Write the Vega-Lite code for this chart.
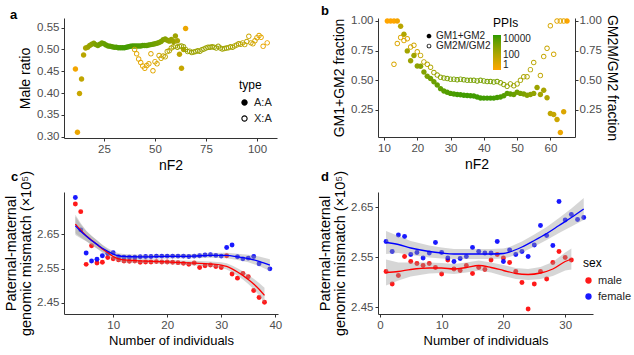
{
  "$schema": "https://vega.github.io/schema/vega-lite/v6.json",
  "padding": {"left": 3, "top": 5, "right": 0, "bottom": 0},
  "background": "white",
  "config": {
    "font": "Liberation Sans",
    "view": {"stroke": null},
    "axis": {"labelFont": "Liberation Sans", "titleFont": "Liberation Sans", "labelFontSize": 11.5, "labelColor": "#4D4D4D", "titleFontSize": 14, "titleFontWeight": "normal", "titleColor": "black", "domainColor": "#333333", "tickColor": "#333333", "tickSize": 3, "grid": false, "labelPadding": 2, "titlePadding": 4},
    "legend": {"labelFont": "Liberation Sans", "titleFont": "Liberation Sans", "titleFontWeight": "normal", "titleColor": "black", "labelColor": "#222222", "symbolBaseFillColor": "black", "symbolBaseStrokeColor": "black", "symbolStrokeWidth": 0},
    "title": {"font": "Liberation Sans", "fontSize": 13, "fontWeight": "bold", "anchor": "start", "frame": "group", "offset": -4, "color": "black"}
  },
  "datasets": {
    "aData": [
      {"n": 11, "r": 0.455, "type": "A:A", "ppi": 2},
      {"n": 12, "r": 0.31, "type": "A:A", "ppi": 3},
      {"n": 13, "r": 0.399, "type": "A:A", "ppi": 25},
      {"n": 14, "r": 0.432, "type": "A:A", "ppi": 40},
      {"n": 15, "r": 0.487, "type": "A:A", "ppi": 60},
      {"n": 16, "r": 0.503, "type": "A:A", "ppi": 150},
      {"n": 17, "r": 0.505, "type": "A:A", "ppi": 250},
      {"n": 18, "r": 0.509, "type": "A:A", "ppi": 400},
      {"n": 19, "r": 0.512, "type": "A:A", "ppi": 600},
      {"n": 20, "r": 0.514, "type": "A:A", "ppi": 900},
      {"n": 21, "r": 0.511, "type": "A:A", "ppi": 1500},
      {"n": 22, "r": 0.509, "type": "A:A", "ppi": 2000},
      {"n": 23, "r": 0.512, "type": "A:A", "ppi": 2500},
      {"n": 24, "r": 0.515, "type": "A:A", "ppi": 3000},
      {"n": 25, "r": 0.513, "type": "A:A", "ppi": 4000},
      {"n": 26, "r": 0.51, "type": "A:A", "ppi": 5000},
      {"n": 27, "r": 0.508, "type": "A:A", "ppi": 6000},
      {"n": 28, "r": 0.507, "type": "A:A", "ppi": 7000},
      {"n": 29, "r": 0.506, "type": "A:A", "ppi": 8000},
      {"n": 30, "r": 0.505, "type": "A:A", "ppi": 9000},
      {"n": 31, "r": 0.505, "type": "A:A", "ppi": 10000},
      {"n": 32, "r": 0.504, "type": "A:A", "ppi": 12000},
      {"n": 33, "r": 0.504, "type": "A:A", "ppi": 14000},
      {"n": 34, "r": 0.504, "type": "A:A", "ppi": 16000},
      {"n": 35, "r": 0.504, "type": "A:A", "ppi": 18000},
      {"n": 36, "r": 0.505, "type": "A:A", "ppi": 18000},
      {"n": 37, "r": 0.506, "type": "A:A", "ppi": 16000},
      {"n": 38, "r": 0.507, "type": "A:A", "ppi": 15000},
      {"n": 39, "r": 0.508, "type": "A:A", "ppi": 14000},
      {"n": 40, "r": 0.508, "type": "A:A", "ppi": 13000},
      {"n": 41, "r": 0.508, "type": "A:A", "ppi": 12000},
      {"n": 42, "r": 0.508, "type": "A:A", "ppi": 11000},
      {"n": 43, "r": 0.508, "type": "A:A", "ppi": 10000},
      {"n": 44, "r": 0.509, "type": "A:A", "ppi": 9000},
      {"n": 45, "r": 0.509, "type": "A:A", "ppi": 8000},
      {"n": 46, "r": 0.509, "type": "A:A", "ppi": 7000},
      {"n": 47, "r": 0.51, "type": "A:A", "ppi": 6000},
      {"n": 48, "r": 0.511, "type": "A:A", "ppi": 5000},
      {"n": 49, "r": 0.512, "type": "A:A", "ppi": 4000},
      {"n": 50, "r": 0.513, "type": "A:A", "ppi": 3000},
      {"n": 51, "r": 0.514, "type": "A:A", "ppi": 2500},
      {"n": 52, "r": 0.516, "type": "A:A", "ppi": 2000},
      {"n": 53, "r": 0.518, "type": "A:A", "ppi": 1500},
      {"n": 54, "r": 0.522, "type": "A:A", "ppi": 1200},
      {"n": 55, "r": 0.524, "type": "A:A", "ppi": 900},
      {"n": 56, "r": 0.521, "type": "A:A", "ppi": 700},
      {"n": 57, "r": 0.519, "type": "A:A", "ppi": 500},
      {"n": 58, "r": 0.523, "type": "A:A", "ppi": 400},
      {"n": 59, "r": 0.518, "type": "A:A", "ppi": 300},
      {"n": 60, "r": 0.531, "type": "A:A", "ppi": 250},
      {"n": 61, "r": 0.52, "type": "A:A", "ppi": 150},
      {"n": 62, "r": 0.489, "type": "A:A", "ppi": 50},
      {"n": 63, "r": 0.457, "type": "A:A", "ppi": 30},
      {"n": 64, "r": 0.5, "type": "A:A", "ppi": 80},
      {"n": 65, "r": 0.548, "type": "A:A", "ppi": 3},
      {"n": 40, "r": 0.5, "type": "X:A", "ppi": 8},
      {"n": 41, "r": 0.49, "type": "X:A", "ppi": 6},
      {"n": 42, "r": 0.478, "type": "X:A", "ppi": 5},
      {"n": 43, "r": 0.47, "type": "X:A", "ppi": 5},
      {"n": 44, "r": 0.462, "type": "X:A", "ppi": 5},
      {"n": 45, "r": 0.457, "type": "X:A", "ppi": 5},
      {"n": 46, "r": 0.463, "type": "X:A", "ppi": 6},
      {"n": 47, "r": 0.467, "type": "X:A", "ppi": 6},
      {"n": 48, "r": 0.49, "type": "X:A", "ppi": 8},
      {"n": 49, "r": 0.451, "type": "X:A", "ppi": 6},
      {"n": 50, "r": 0.472, "type": "X:A", "ppi": 8},
      {"n": 51, "r": 0.467, "type": "X:A", "ppi": 10},
      {"n": 52, "r": 0.486, "type": "X:A", "ppi": 15},
      {"n": 53, "r": 0.48, "type": "X:A", "ppi": 20},
      {"n": 54, "r": 0.485, "type": "X:A", "ppi": 30},
      {"n": 55, "r": 0.483, "type": "X:A", "ppi": 40},
      {"n": 56, "r": 0.495, "type": "X:A", "ppi": 60},
      {"n": 57, "r": 0.497, "type": "X:A", "ppi": 80},
      {"n": 58, "r": 0.503, "type": "X:A", "ppi": 100},
      {"n": 59, "r": 0.506, "type": "X:A", "ppi": 150},
      {"n": 60, "r": 0.508, "type": "X:A", "ppi": 200},
      {"n": 61, "r": 0.505, "type": "X:A", "ppi": 250},
      {"n": 62, "r": 0.507, "type": "X:A", "ppi": 300},
      {"n": 63, "r": 0.508, "type": "X:A", "ppi": 300},
      {"n": 64, "r": 0.506, "type": "X:A", "ppi": 300},
      {"n": 65, "r": 0.5, "type": "X:A", "ppi": 300},
      {"n": 66, "r": 0.495, "type": "X:A", "ppi": 300},
      {"n": 67, "r": 0.496, "type": "X:A", "ppi": 300},
      {"n": 68, "r": 0.493, "type": "X:A", "ppi": 300},
      {"n": 69, "r": 0.494, "type": "X:A", "ppi": 300},
      {"n": 70, "r": 0.495, "type": "X:A", "ppi": 300},
      {"n": 71, "r": 0.497, "type": "X:A", "ppi": 300},
      {"n": 72, "r": 0.496, "type": "X:A", "ppi": 300},
      {"n": 73, "r": 0.499, "type": "X:A", "ppi": 300},
      {"n": 74, "r": 0.501, "type": "X:A", "ppi": 300},
      {"n": 75, "r": 0.503, "type": "X:A", "ppi": 300},
      {"n": 76, "r": 0.505, "type": "X:A", "ppi": 300},
      {"n": 77, "r": 0.505, "type": "X:A", "ppi": 300},
      {"n": 78, "r": 0.506, "type": "X:A", "ppi": 300},
      {"n": 79, "r": 0.505, "type": "X:A", "ppi": 300},
      {"n": 80, "r": 0.503, "type": "X:A", "ppi": 300},
      {"n": 81, "r": 0.507, "type": "X:A", "ppi": 250},
      {"n": 82, "r": 0.503, "type": "X:A", "ppi": 250},
      {"n": 83, "r": 0.501, "type": "X:A", "ppi": 250},
      {"n": 84, "r": 0.502, "type": "X:A", "ppi": 200},
      {"n": 85, "r": 0.503, "type": "X:A", "ppi": 200},
      {"n": 86, "r": 0.504, "type": "X:A", "ppi": 200},
      {"n": 87, "r": 0.506, "type": "X:A", "ppi": 150},
      {"n": 88, "r": 0.505, "type": "X:A", "ppi": 150},
      {"n": 89, "r": 0.508, "type": "X:A", "ppi": 120},
      {"n": 90, "r": 0.51, "type": "X:A", "ppi": 100},
      {"n": 91, "r": 0.513, "type": "X:A", "ppi": 80},
      {"n": 92, "r": 0.512, "type": "X:A", "ppi": 60},
      {"n": 93, "r": 0.515, "type": "X:A", "ppi": 50},
      {"n": 94, "r": 0.511, "type": "X:A", "ppi": 40},
      {"n": 95, "r": 0.518, "type": "X:A", "ppi": 30},
      {"n": 96, "r": 0.53, "type": "X:A", "ppi": 20},
      {"n": 97, "r": 0.515, "type": "X:A", "ppi": 20},
      {"n": 98, "r": 0.513, "type": "X:A", "ppi": 15},
      {"n": 99, "r": 0.52, "type": "X:A", "ppi": 10},
      {"n": 100, "r": 0.527, "type": "X:A", "ppi": 8},
      {"n": 101, "r": 0.532, "type": "X:A", "ppi": 6},
      {"n": 102, "r": 0.528, "type": "X:A", "ppi": 5},
      {"n": 103, "r": 0.507, "type": "X:A", "ppi": 4},
      {"n": 105, "r": 0.515, "type": "X:A", "ppi": 3}
    ],
    "bData": [
      {"n": 11, "f": 1.0, "s": "GM1+GM2", "ppi": 1},
      {"n": 12, "f": 1.0, "s": "GM1+GM2", "ppi": 1},
      {"n": 13, "f": 1.0, "s": "GM1+GM2", "ppi": 1},
      {"n": 14, "f": 1.0, "s": "GM1+GM2", "ppi": 2},
      {"n": 15, "f": 0.955, "s": "GM1+GM2", "ppi": 60},
      {"n": 16, "f": 0.888, "s": "GM1+GM2", "ppi": 100},
      {"n": 17, "f": 0.748, "s": "GM1+GM2", "ppi": 200},
      {"n": 18, "f": 0.664, "s": "GM1+GM2", "ppi": 300},
      {"n": 19, "f": 0.71, "s": "GM1+GM2", "ppi": 250},
      {"n": 20, "f": 0.62, "s": "GM1+GM2", "ppi": 600},
      {"n": 21, "f": 0.619, "s": "GM1+GM2", "ppi": 800},
      {"n": 22, "f": 0.57, "s": "GM1+GM2", "ppi": 1200},
      {"n": 23, "f": 0.535, "s": "GM1+GM2", "ppi": 1800},
      {"n": 24, "f": 0.515, "s": "GM1+GM2", "ppi": 2500},
      {"n": 25, "f": 0.487, "s": "GM1+GM2", "ppi": 3500},
      {"n": 26, "f": 0.46, "s": "GM1+GM2", "ppi": 5000},
      {"n": 27, "f": 0.43, "s": "GM1+GM2", "ppi": 6000},
      {"n": 28, "f": 0.41, "s": "GM1+GM2", "ppi": 8000},
      {"n": 29, "f": 0.4, "s": "GM1+GM2", "ppi": 10000},
      {"n": 30, "f": 0.39, "s": "GM1+GM2", "ppi": 12000},
      {"n": 31, "f": 0.385, "s": "GM1+GM2", "ppi": 14000},
      {"n": 32, "f": 0.38, "s": "GM1+GM2", "ppi": 16000},
      {"n": 33, "f": 0.378, "s": "GM1+GM2", "ppi": 18000},
      {"n": 34, "f": 0.375, "s": "GM1+GM2", "ppi": 20000},
      {"n": 35, "f": 0.372, "s": "GM1+GM2", "ppi": 20000},
      {"n": 36, "f": 0.37, "s": "GM1+GM2", "ppi": 20000},
      {"n": 37, "f": 0.368, "s": "GM1+GM2", "ppi": 20000},
      {"n": 38, "f": 0.36, "s": "GM1+GM2", "ppi": 20000},
      {"n": 39, "f": 0.352, "s": "GM1+GM2", "ppi": 20000},
      {"n": 40, "f": 0.35, "s": "GM1+GM2", "ppi": 20000},
      {"n": 41, "f": 0.35, "s": "GM1+GM2", "ppi": 20000},
      {"n": 42, "f": 0.35, "s": "GM1+GM2", "ppi": 20000},
      {"n": 43, "f": 0.35, "s": "GM1+GM2", "ppi": 18000},
      {"n": 44, "f": 0.355, "s": "GM1+GM2", "ppi": 16000},
      {"n": 45, "f": 0.36, "s": "GM1+GM2", "ppi": 14000},
      {"n": 46, "f": 0.37, "s": "GM1+GM2", "ppi": 10000},
      {"n": 47, "f": 0.39, "s": "GM1+GM2", "ppi": 8000},
      {"n": 48, "f": 0.385, "s": "GM1+GM2", "ppi": 6000},
      {"n": 49, "f": 0.38, "s": "GM1+GM2", "ppi": 4000},
      {"n": 50, "f": 0.4, "s": "GM1+GM2", "ppi": 3000},
      {"n": 51, "f": 0.39, "s": "GM1+GM2", "ppi": 2000},
      {"n": 52, "f": 0.385, "s": "GM1+GM2", "ppi": 1500},
      {"n": 53, "f": 0.375, "s": "GM1+GM2", "ppi": 1000},
      {"n": 54, "f": 0.38, "s": "GM1+GM2", "ppi": 700},
      {"n": 55, "f": 0.39, "s": "GM1+GM2", "ppi": 500},
      {"n": 56, "f": 0.44, "s": "GM1+GM2", "ppi": 300},
      {"n": 57, "f": 0.38, "s": "GM1+GM2", "ppi": 200},
      {"n": 58, "f": 0.417, "s": "GM1+GM2", "ppi": 150},
      {"n": 59, "f": 0.353, "s": "GM1+GM2", "ppi": 100},
      {"n": 60, "f": 0.22, "s": "GM1+GM2", "ppi": 40},
      {"n": 61, "f": 0.213, "s": "GM1+GM2", "ppi": 30},
      {"n": 62, "f": 0.17, "s": "GM1+GM2", "ppi": 20},
      {"n": 63, "f": 0.06, "s": "GM1+GM2", "ppi": 3},
      {"n": 64, "f": 0.235, "s": "GM1+GM2", "ppi": 8},
      {"n": 65, "f": 1.0, "s": "GM1+GM2", "ppi": 1},
      {"n": 13, "f": 0.635, "s": "GM2M/GM2", "ppi": 10},
      {"n": 14, "f": 0.81, "s": "GM2M/GM2", "ppi": 8},
      {"n": 15, "f": 0.86, "s": "GM2M/GM2", "ppi": 8},
      {"n": 16, "f": 0.835, "s": "GM2M/GM2", "ppi": 8},
      {"n": 17, "f": 0.85, "s": "GM2M/GM2", "ppi": 8},
      {"n": 18, "f": 0.78, "s": "GM2M/GM2", "ppi": 15},
      {"n": 19, "f": 0.795, "s": "GM2M/GM2", "ppi": 15},
      {"n": 20, "f": 0.74, "s": "GM2M/GM2", "ppi": 20},
      {"n": 21, "f": 0.71, "s": "GM2M/GM2", "ppi": 30},
      {"n": 22, "f": 0.655, "s": "GM2M/GM2", "ppi": 50},
      {"n": 23, "f": 0.635, "s": "GM2M/GM2", "ppi": 70},
      {"n": 24, "f": 0.61, "s": "GM2M/GM2", "ppi": 100},
      {"n": 25, "f": 0.565, "s": "GM2M/GM2", "ppi": 200},
      {"n": 26, "f": 0.545, "s": "GM2M/GM2", "ppi": 400},
      {"n": 27, "f": 0.525, "s": "GM2M/GM2", "ppi": 800},
      {"n": 28, "f": 0.52, "s": "GM2M/GM2", "ppi": 1000},
      {"n": 29, "f": 0.515, "s": "GM2M/GM2", "ppi": 1500},
      {"n": 30, "f": 0.51, "s": "GM2M/GM2", "ppi": 2000},
      {"n": 31, "f": 0.51, "s": "GM2M/GM2", "ppi": 2000},
      {"n": 32, "f": 0.505, "s": "GM2M/GM2", "ppi": 2000},
      {"n": 33, "f": 0.51, "s": "GM2M/GM2", "ppi": 2000},
      {"n": 34, "f": 0.505, "s": "GM2M/GM2", "ppi": 2000},
      {"n": 35, "f": 0.5, "s": "GM2M/GM2", "ppi": 2000},
      {"n": 36, "f": 0.5, "s": "GM2M/GM2", "ppi": 2000},
      {"n": 37, "f": 0.5, "s": "GM2M/GM2", "ppi": 2000},
      {"n": 38, "f": 0.495, "s": "GM2M/GM2", "ppi": 2000},
      {"n": 39, "f": 0.5, "s": "GM2M/GM2", "ppi": 2000},
      {"n": 40, "f": 0.495, "s": "GM2M/GM2", "ppi": 2000},
      {"n": 41, "f": 0.49, "s": "GM2M/GM2", "ppi": 2000},
      {"n": 42, "f": 0.49, "s": "GM2M/GM2", "ppi": 2000},
      {"n": 43, "f": 0.485, "s": "GM2M/GM2", "ppi": 2000},
      {"n": 44, "f": 0.49, "s": "GM2M/GM2", "ppi": 2000},
      {"n": 45, "f": 0.48, "s": "GM2M/GM2", "ppi": 1000},
      {"n": 46, "f": 0.465, "s": "GM2M/GM2", "ppi": 800},
      {"n": 47, "f": 0.45, "s": "GM2M/GM2", "ppi": 600},
      {"n": 48, "f": 0.47, "s": "GM2M/GM2", "ppi": 400},
      {"n": 49, "f": 0.455, "s": "GM2M/GM2", "ppi": 300},
      {"n": 50, "f": 0.47, "s": "GM2M/GM2", "ppi": 250},
      {"n": 51, "f": 0.5, "s": "GM2M/GM2", "ppi": 200},
      {"n": 52, "f": 0.53, "s": "GM2M/GM2", "ppi": 150},
      {"n": 53, "f": 0.53, "s": "GM2M/GM2", "ppi": 120},
      {"n": 54, "f": 0.59, "s": "GM2M/GM2", "ppi": 80},
      {"n": 55, "f": 0.65, "s": "GM2M/GM2", "ppi": 60},
      {"n": 57, "f": 0.54, "s": "GM2M/GM2", "ppi": 40},
      {"n": 58, "f": 0.7, "s": "GM2M/GM2", "ppi": 30},
      {"n": 59, "f": 0.77, "s": "GM2M/GM2", "ppi": 25},
      {"n": 60, "f": 0.96, "s": "GM2M/GM2", "ppi": 12},
      {"n": 61, "f": 0.72, "s": "GM2M/GM2", "ppi": 15},
      {"n": 62, "f": 1.0, "s": "GM2M/GM2", "ppi": 5},
      {"n": 63, "f": 1.0, "s": "GM2M/GM2", "ppi": 5},
      {"n": 64, "f": 1.0, "s": "GM2M/GM2", "ppi": 5}
    ],
    "cPts": [
      {"n": 3, "v": 2.737, "sex": "male"}, {"n": 4, "v": 2.715, "sex": "male"}, {"n": 5, "v": 2.562, "sex": "male"}, {"n": 6, "v": 2.616, "sex": "male"}, {"n": 7, "v": 2.566, "sex": "male"}, {"n": 8, "v": 2.568, "sex": "male"}, {"n": 9, "v": 2.582, "sex": "male"}, {"n": 10, "v": 2.578, "sex": "male"},
      {"n": 11, "v": 2.575, "sex": "male"}, {"n": 12, "v": 2.572, "sex": "male"}, {"n": 13, "v": 2.571, "sex": "male"}, {"n": 14, "v": 2.572, "sex": "male"}, {"n": 15, "v": 2.568, "sex": "male"}, {"n": 16, "v": 2.569, "sex": "male"}, {"n": 17, "v": 2.569, "sex": "male"}, {"n": 18, "v": 2.57, "sex": "male"}, {"n": 19, "v": 2.569, "sex": "male"}, {"n": 20, "v": 2.569, "sex": "male"},
      {"n": 21, "v": 2.568, "sex": "male"}, {"n": 22, "v": 2.567, "sex": "male"}, {"n": 23, "v": 2.565, "sex": "male"}, {"n": 24, "v": 2.562, "sex": "male"}, {"n": 25, "v": 2.566, "sex": "male"}, {"n": 26, "v": 2.553, "sex": "male"}, {"n": 27, "v": 2.558, "sex": "male"}, {"n": 28, "v": 2.56, "sex": "male"}, {"n": 29, "v": 2.556, "sex": "male"}, {"n": 30, "v": 2.553, "sex": "male"},
      {"n": 31, "v": 2.587, "sex": "male"}, {"n": 32, "v": 2.534, "sex": "male"}, {"n": 33, "v": 2.522, "sex": "male"}, {"n": 34, "v": 2.536, "sex": "male"}, {"n": 35, "v": 2.526, "sex": "male"}, {"n": 36, "v": 2.486, "sex": "male"}, {"n": 37, "v": 2.466, "sex": "male"}, {"n": 38, "v": 2.452, "sex": "male"},
      {"n": 3, "v": 2.756, "sex": "female"}, {"n": 4, "v": 2.662, "sex": "female"}, {"n": 5, "v": 2.595, "sex": "female"}, {"n": 6, "v": 2.572, "sex": "female"}, {"n": 7, "v": 2.577, "sex": "female"}, {"n": 8, "v": 2.587, "sex": "female"}, {"n": 9, "v": 2.594, "sex": "female"}, {"n": 10, "v": 2.596, "sex": "female"},
      {"n": 11, "v": 2.584, "sex": "female"}, {"n": 12, "v": 2.583, "sex": "female"}, {"n": 13, "v": 2.583, "sex": "female"}, {"n": 14, "v": 2.583, "sex": "female"}, {"n": 15, "v": 2.584, "sex": "female"}, {"n": 16, "v": 2.585, "sex": "female"}, {"n": 17, "v": 2.585, "sex": "female"}, {"n": 18, "v": 2.586, "sex": "female"}, {"n": 19, "v": 2.586, "sex": "female"}, {"n": 20, "v": 2.586, "sex": "female"},
      {"n": 21, "v": 2.586, "sex": "female"}, {"n": 22, "v": 2.586, "sex": "female"}, {"n": 23, "v": 2.586, "sex": "female"}, {"n": 24, "v": 2.585, "sex": "female"}, {"n": 25, "v": 2.586, "sex": "female"}, {"n": 26, "v": 2.587, "sex": "female"}, {"n": 27, "v": 2.589, "sex": "female"}, {"n": 28, "v": 2.59, "sex": "female"}, {"n": 29, "v": 2.588, "sex": "female"}, {"n": 30, "v": 2.586, "sex": "female"},
      {"n": 31, "v": 2.611, "sex": "female"}, {"n": 32, "v": 2.618, "sex": "female"}, {"n": 33, "v": 2.584, "sex": "female"}, {"n": 34, "v": 2.578, "sex": "female"}, {"n": 35, "v": 2.58, "sex": "female"}, {"n": 36, "v": 2.585, "sex": "female"}, {"n": 37, "v": 2.564, "sex": "female"}, {"n": 39, "v": 2.549, "sex": "female"}
    ],
    "cFit": [
      {"n": 3, "fit": 2.679, "lo": 2.652, "hi": 2.706, "sex": "male"}, {"n": 4, "fit": 2.661, "lo": 2.641, "hi": 2.681, "sex": "male"}, {"n": 5, "fit": 2.645, "lo": 2.63, "hi": 2.66, "sex": "male"}, {"n": 6, "fit": 2.632, "lo": 2.619, "hi": 2.645, "sex": "male"}, {"n": 7, "fit": 2.62, "lo": 2.608, "hi": 2.632, "sex": "male"}, {"n": 8, "fit": 2.607, "lo": 2.596, "hi": 2.618, "sex": "male"}, {"n": 9, "fit": 2.596, "lo": 2.586, "hi": 2.606, "sex": "male"}, {"n": 10, "fit": 2.585, "lo": 2.576, "hi": 2.594, "sex": "male"}, {"n": 11, "fit": 2.578, "lo": 2.57, "hi": 2.586, "sex": "male"}, {"n": 12, "fit": 2.575, "lo": 2.567, "hi": 2.583, "sex": "male"}, {"n": 14, "fit": 2.573, "lo": 2.566, "hi": 2.58, "sex": "male"}, {"n": 17, "fit": 2.571, "lo": 2.565, "hi": 2.577, "sex": "male"}, {"n": 20, "fit": 2.569, "lo": 2.563, "hi": 2.575, "sex": "male"}, {"n": 23, "fit": 2.567, "lo": 2.561, "hi": 2.573, "sex": "male"}, {"n": 26, "fit": 2.565, "lo": 2.558, "hi": 2.572, "sex": "male"}, {"n": 28, "fit": 2.563, "lo": 2.556, "hi": 2.57, "sex": "male"}, {"n": 30, "fit": 2.56, "lo": 2.552, "hi": 2.568, "sex": "male"}, {"n": 31, "fit": 2.556, "lo": 2.547, "hi": 2.565, "sex": "male"}, {"n": 32, "fit": 2.549, "lo": 2.539, "hi": 2.559, "sex": "male"}, {"n": 33, "fit": 2.54, "lo": 2.529, "hi": 2.551, "sex": "male"}, {"n": 34, "fit": 2.53, "lo": 2.518, "hi": 2.542, "sex": "male"}, {"n": 35, "fit": 2.518, "lo": 2.505, "hi": 2.531, "sex": "male"}, {"n": 36, "fit": 2.505, "lo": 2.49, "hi": 2.52, "sex": "male"}, {"n": 37, "fit": 2.49, "lo": 2.472, "hi": 2.508, "sex": "male"}, {"n": 38, "fit": 2.472, "lo": 2.45, "hi": 2.494, "sex": "male"},
      {"n": 3, "fit": 2.674, "lo": 2.647, "hi": 2.701, "sex": "female"}, {"n": 4, "fit": 2.658, "lo": 2.638, "hi": 2.678, "sex": "female"}, {"n": 5, "fit": 2.644, "lo": 2.629, "hi": 2.659, "sex": "female"}, {"n": 6, "fit": 2.631, "lo": 2.618, "hi": 2.644, "sex": "female"}, {"n": 7, "fit": 2.62, "lo": 2.608, "hi": 2.632, "sex": "female"}, {"n": 8, "fit": 2.609, "lo": 2.599, "hi": 2.619, "sex": "female"}, {"n": 9, "fit": 2.6, "lo": 2.591, "hi": 2.609, "sex": "female"}, {"n": 10, "fit": 2.592, "lo": 2.584, "hi": 2.6, "sex": "female"}, {"n": 11, "fit": 2.587, "lo": 2.58, "hi": 2.594, "sex": "female"}, {"n": 12, "fit": 2.585, "lo": 2.578, "hi": 2.592, "sex": "female"}, {"n": 15, "fit": 2.584, "lo": 2.578, "hi": 2.59, "sex": "female"}, {"n": 20, "fit": 2.585, "lo": 2.579, "hi": 2.591, "sex": "female"}, {"n": 25, "fit": 2.586, "lo": 2.58, "hi": 2.592, "sex": "female"}, {"n": 28, "fit": 2.588, "lo": 2.581, "hi": 2.595, "sex": "female"}, {"n": 31, "fit": 2.588, "lo": 2.58, "hi": 2.596, "sex": "female"}, {"n": 33, "fit": 2.584, "lo": 2.575, "hi": 2.593, "sex": "female"}, {"n": 35, "fit": 2.579, "lo": 2.568, "hi": 2.59, "sex": "female"}, {"n": 37, "fit": 2.571, "lo": 2.557, "hi": 2.585, "sex": "female"}, {"n": 39, "fit": 2.56, "lo": 2.543, "hi": 2.577, "sex": "female"}
    ],
    "dPts": [
      {"n": 1, "v": 2.521, "sex": "male"}, {"n": 2, "v": 2.496, "sex": "male"}, {"n": 3, "v": 2.513, "sex": "male"}, {"n": 4, "v": 2.551, "sex": "male"}, {"n": 5, "v": 2.541, "sex": "male"}, {"n": 6, "v": 2.537, "sex": "male"}, {"n": 7, "v": 2.533, "sex": "male"}, {"n": 8, "v": 2.537, "sex": "male"}, {"n": 9, "v": 2.529, "sex": "male"}, {"n": 10, "v": 2.516, "sex": "male"},
      {"n": 11, "v": 2.544, "sex": "male"}, {"n": 12, "v": 2.526, "sex": "male"}, {"n": 13, "v": 2.523, "sex": "male"}, {"n": 14, "v": 2.533, "sex": "male"}, {"n": 15, "v": 2.517, "sex": "male"}, {"n": 16, "v": 2.529, "sex": "male"}, {"n": 17, "v": 2.525, "sex": "male"}, {"n": 18, "v": 2.544, "sex": "male"}, {"n": 19, "v": 2.555, "sex": "male"}, {"n": 20, "v": 2.548, "sex": "male"},
      {"n": 21, "v": 2.539, "sex": "male"}, {"n": 22, "v": 2.521, "sex": "male"}, {"n": 23, "v": 2.499, "sex": "male"}, {"n": 24, "v": 2.446, "sex": "male"}, {"n": 25, "v": 2.496, "sex": "male"}, {"n": 26, "v": 2.521, "sex": "male"}, {"n": 27, "v": 2.506, "sex": "male"}, {"n": 28, "v": 2.539, "sex": "male"}, {"n": 29, "v": 2.561, "sex": "male"}, {"n": 30, "v": 2.549, "sex": "male"}, {"n": 31, "v": 2.544, "sex": "male"},
      {"n": 1, "v": 2.581, "sex": "female"}, {"n": 2, "v": 2.561, "sex": "female"}, {"n": 3, "v": 2.594, "sex": "female"}, {"n": 4, "v": 2.591, "sex": "female"}, {"n": 5, "v": 2.555, "sex": "female"}, {"n": 6, "v": 2.559, "sex": "female"}, {"n": 7, "v": 2.548, "sex": "female"}, {"n": 8, "v": 2.558, "sex": "female"}, {"n": 9, "v": 2.579, "sex": "female"}, {"n": 10, "v": 2.559, "sex": "female"},
      {"n": 11, "v": 2.548, "sex": "female"}, {"n": 12, "v": 2.541, "sex": "female"}, {"n": 13, "v": 2.547, "sex": "female"}, {"n": 14, "v": 2.551, "sex": "female"}, {"n": 15, "v": 2.569, "sex": "female"}, {"n": 16, "v": 2.561, "sex": "female"}, {"n": 17, "v": 2.558, "sex": "female"}, {"n": 18, "v": 2.558, "sex": "female"}, {"n": 19, "v": 2.581, "sex": "female"}, {"n": 20, "v": 2.541, "sex": "female"},
      {"n": 21, "v": 2.564, "sex": "female"}, {"n": 22, "v": 2.555, "sex": "female"}, {"n": 23, "v": 2.561, "sex": "female"}, {"n": 24, "v": 2.551, "sex": "female"}, {"n": 25, "v": 2.574, "sex": "female"}, {"n": 26, "v": 2.613, "sex": "female"}, {"n": 27, "v": 2.593, "sex": "female"}, {"n": 28, "v": 2.573, "sex": "female"}, {"n": 29, "v": 2.661, "sex": "female"}, {"n": 30, "v": 2.624, "sex": "female"}, {"n": 31, "v": 2.635, "sex": "female"}, {"n": 32, "v": 2.625, "sex": "female"}, {"n": 33, "v": 2.629, "sex": "female"}
    ],
    "dFit": [
      {"n": 1, "fit": 2.519, "lo": 2.493, "hi": 2.545, "sex": "male"}, {"n": 3, "fit": 2.521, "lo": 2.503, "hi": 2.539, "sex": "male"}, {"n": 5, "fit": 2.525, "lo": 2.511, "hi": 2.539, "sex": "male"}, {"n": 8, "fit": 2.528, "lo": 2.517, "hi": 2.539, "sex": "male"}, {"n": 10, "fit": 2.528, "lo": 2.518, "hi": 2.538, "sex": "male"}, {"n": 12, "fit": 2.526, "lo": 2.516, "hi": 2.536, "sex": "male"}, {"n": 14, "fit": 2.529, "lo": 2.519, "hi": 2.539, "sex": "male"}, {"n": 16, "fit": 2.533, "lo": 2.523, "hi": 2.543, "sex": "male"}, {"n": 18, "fit": 2.529, "lo": 2.519, "hi": 2.539, "sex": "male"}, {"n": 20, "fit": 2.523, "lo": 2.512, "hi": 2.534, "sex": "male"}, {"n": 22, "fit": 2.517, "lo": 2.506, "hi": 2.528, "sex": "male"}, {"n": 24, "fit": 2.515, "lo": 2.504, "hi": 2.526, "sex": "male"}, {"n": 26, "fit": 2.518, "lo": 2.506, "hi": 2.53, "sex": "male"}, {"n": 28, "fit": 2.526, "lo": 2.512, "hi": 2.54, "sex": "male"}, {"n": 30, "fit": 2.541, "lo": 2.523, "hi": 2.559, "sex": "male"}, {"n": 31, "fit": 2.546, "lo": 2.525, "hi": 2.567, "sex": "male"},
      {"n": 1, "fit": 2.579, "lo": 2.556, "hi": 2.602, "sex": "female"}, {"n": 3, "fit": 2.575, "lo": 2.558, "hi": 2.592, "sex": "female"}, {"n": 5, "fit": 2.568, "lo": 2.554, "hi": 2.582, "sex": "female"}, {"n": 8, "fit": 2.561, "lo": 2.549, "hi": 2.573, "sex": "female"}, {"n": 10, "fit": 2.558, "lo": 2.547, "hi": 2.569, "sex": "female"}, {"n": 12, "fit": 2.556, "lo": 2.546, "hi": 2.566, "sex": "female"}, {"n": 15, "fit": 2.556, "lo": 2.546, "hi": 2.566, "sex": "female"}, {"n": 18, "fit": 2.556, "lo": 2.546, "hi": 2.566, "sex": "female"}, {"n": 20, "fit": 2.557, "lo": 2.547, "hi": 2.567, "sex": "female"}, {"n": 21, "fit": 2.56, "lo": 2.55, "hi": 2.57, "sex": "female"}, {"n": 23, "fit": 2.57, "lo": 2.559, "hi": 2.581, "sex": "female"}, {"n": 25, "fit": 2.583, "lo": 2.571, "hi": 2.595, "sex": "female"}, {"n": 27, "fit": 2.597, "lo": 2.584, "hi": 2.61, "sex": "female"}, {"n": 29, "fit": 2.613, "lo": 2.598, "hi": 2.628, "sex": "female"}, {"n": 31, "fit": 2.629, "lo": 2.611, "hi": 2.647, "sex": "female"}, {"n": 33, "fit": 2.646, "lo": 2.624, "hi": 2.668, "sex": "female"}
    ]
  },
  "columns": 2,
  "bounds": "flush",
  "spacing": {"row": 54, "column": 100},
  "resolve": {
    "scale": {"fill": "independent", "shape": "independent", "color": "independent"},
    "legend": {"fill": "independent", "shape": "independent", "color": "independent"}
  },
  "concat": [
    {
      "width": 213, "height": 120,
      "title": {"text": "a", "dx": -54},
      "data": {"name": "aData"},
      "mark": {"type": "point", "filled": true, "size": 30, "opacity": 1, "strokeWidth": 0},
      "encoding": {
        "x": {"field": "n", "type": "quantitative", "scale": {"domain": [5.4, 109.8], "nice": false, "zero": false}, "axis": {"values": [25, 50, 75, 100], "title": "nF2"}},
        "y": {"field": "r", "type": "quantitative", "scale": {"domain": [0.297, 0.572], "nice": false, "zero": false}, "axis": {"values": [0.3, 0.35, 0.4, 0.45, 0.5, 0.55], "format": ".2f", "title": "Male ratio"}},
        "fill": {"field": "ppi", "type": "quantitative", "scale": {"type": "log", "domain": [1, 36000], "range": ["#FFA500", "#2A9A00"], "interpolate": "lab"}, "legend": null},
        "shape": {"field": "type", "type": "nominal", "scale": {"domain": ["A:A", "X:A"], "range": ["M-1,0A1,1 0 1,0 1,0A1,1 0 1,0 -1,0Z", "M-1,0A1,1 0 1,0 1,0A1,1 0 1,0 -1,0ZM-0.66,0A0.66,0.66 0 1,1 0.66,0A0.66,0.66 0 1,1 -0.66,0Z"]}, "legend": {"title": "type", "orient": "none", "legendX": 175, "legendY": 62, "titleFontSize": 12, "labelFontSize": 11, "symbolSize": 40, "rowPadding": 4, "symbolStrokeWidth": 0}}
      }
    },
    {
      "width": 197, "height": 119,
      "title": {"text": "b", "dx": -57},
      "data": {"name": "bData"},
      "encoding": {
        "x": {"field": "n", "type": "quantitative", "scale": {"domain": [8.2, 67.4], "nice": false, "zero": false}, "axis": {"values": [10, 20, 30, 40, 50, 60], "title": "nF2"}},
        "fill": {"field": "ppi", "type": "quantitative", "scale": {"type": "log", "domain": [1, 36000], "range": ["#FFA500", "#2A9A00"], "interpolate": "lab"}, "legend": {"type": "gradient", "title": "PPIs", "orient": "none", "legendX": 115, "legendY": 0, "direction": "vertical", "values": [1, 100, 10000], "format": "d", "gradientLength": 35, "gradientThickness": 8, "titleFontSize": 12, "labelFontSize": 10, "gradientStrokeWidth": 0}},
        "shape": {"field": "s", "type": "nominal", "scale": {"domain": ["GM1+GM2", "GM2M/GM2"], "range": ["M-1,0A1,1 0 1,0 1,0A1,1 0 1,0 -1,0Z", "M-1,0A1,1 0 1,0 1,0A1,1 0 1,0 -1,0ZM-0.66,0A0.66,0.66 0 1,1 0.66,0A0.66,0.66 0 1,1 -0.66,0Z"]}, "legend": {"title": null, "orient": "none", "legendX": 46, "legendY": 13, "labelFontSize": 10, "symbolSize": 22, "rowPadding": 0, "labelOffset": 2, "symbolStrokeWidth": 0}}
      },
      "layer": [
        {
          "transform": [{"filter": "datum.s == 'GM1+GM2'"}],
          "mark": {"type": "point", "filled": true, "size": 30, "opacity": 1, "strokeWidth": 0},
          "encoding": {"y": {"field": "f", "type": "quantitative", "scale": {"domain": [0.0225, 1.025], "nice": false, "zero": false}, "axis": {"values": [0.25, 0.5, 0.75, 1.0], "format": ".2f", "title": "GM1+GM2 fraction"}}}
        },
        {
          "transform": [{"filter": "datum.s == 'GM2M/GM2'"}],
          "mark": {"type": "point", "filled": true, "size": 30, "opacity": 1, "strokeWidth": 0},
          "encoding": {"y": {"field": "f", "type": "quantitative", "scale": {"domain": [0.0225, 1.025], "nice": false, "zero": false}, "axis": {"orient": "right", "values": [0.25, 0.5, 0.75, 1.0], "format": ".2f", "title": "GM2M/GM2 fraction", "labelPadding": 1, "titlePadding": 3}}}
        }
      ],
      "resolve": {"scale": {"y": "independent"}}
    },
    {
      "width": 214, "height": 122,
      "title": {"text": "c", "dx": -53, "offset": -16},
      "encoding": {
        "x": {"field": "n", "type": "quantitative", "scale": {"domain": [0.9, 40.5], "nice": false, "zero": false}, "axis": {"values": [10, 20, 30, 40], "title": "Number of individuals", "titleFontSize": 13}}
      },
      "layer": [
        {
          "data": {"name": "cPts"},
          "mark": {"type": "point", "filled": true, "size": 24, "opacity": 0.9},
          "encoding": {
            "y": {"field": "v", "type": "quantitative", "scale": {"domain": [2.418, 2.772], "nice": false, "zero": false}, "axis": {"values": [2.45, 2.5, 2.55, 2.6, 2.65], "format": ".2f", "title": ["Paternal-maternal", "genomic mismatch  (×10⁵)"], "titleFontSize": 14.5, "titleLineHeight": 15, "titlePadding": 3}},
            "color": {"field": "sex", "type": "nominal", "scale": {"domain": ["male", "female"], "range": ["#FF0000", "#0000FF"]}, "legend": null}
          }
        },
        {
          "data": {"name": "cFit"},
          "mark": {"type": "area", "color": "#999999", "opacity": 0.4},
          "encoding": {"y": {"field": "lo", "type": "quantitative"}, "y2": {"field": "hi"}, "detail": {"field": "sex", "type": "nominal"}}
        },
        {
          "data": {"name": "cFit"},
          "mark": {"type": "line", "strokeWidth": 1.3, "interpolate": "monotone"},
          "encoding": {"y": {"field": "fit", "type": "quantitative"}, "color": {"field": "sex", "type": "nominal", "legend": null}}
        }
      ]
    },
    {
      "width": 215, "height": 122,
      "title": {"text": "d", "dx": -57, "offset": -16},
      "encoding": {
        "x": {"field": "n", "type": "quantitative", "scale": {"domain": [-0.3, 34.5], "nice": false, "zero": false}, "axis": {"values": [0, 10, 20, 30], "title": "Number of individuals", "titleFontSize": 13}}
      },
      "layer": [
        {
          "data": {"name": "dPts"},
          "mark": {"type": "point", "filled": true, "size": 24, "opacity": 0.9},
          "encoding": {
            "y": {"field": "v", "type": "quantitative", "scale": {"domain": [2.436, 2.68], "nice": false, "zero": false}, "axis": {"values": [2.45, 2.5, 2.55, 2.6, 2.65], "format": ".2f", "title": ["Paternal-maternal", "genomic mismatch  (×10⁵)"], "titleFontSize": 14.5, "titleLineHeight": 15, "titlePadding": 3}},
            "color": {"field": "sex", "type": "nominal", "scale": {"domain": ["male", "female"], "range": ["#FF0000", "#0000FF"]}, "legend": {"title": "sex", "orient": "none", "legendX": 205, "legendY": 66, "titleFontSize": 12, "labelFontSize": 11, "symbolSize": 40, "rowPadding": 4}}
          }
        },
        {
          "data": {"name": "dFit"},
          "mark": {"type": "area", "color": "#999999", "opacity": 0.4},
          "encoding": {"y": {"field": "lo", "type": "quantitative"}, "y2": {"field": "hi"}, "detail": {"field": "sex", "type": "nominal"}}
        },
        {
          "data": {"name": "dFit"},
          "mark": {"type": "line", "strokeWidth": 1.3, "interpolate": "monotone"},
          "encoding": {"y": {"field": "fit", "type": "quantitative"}, "color": {"field": "sex", "type": "nominal"}}
        }
      ]
    }
  ]
}
